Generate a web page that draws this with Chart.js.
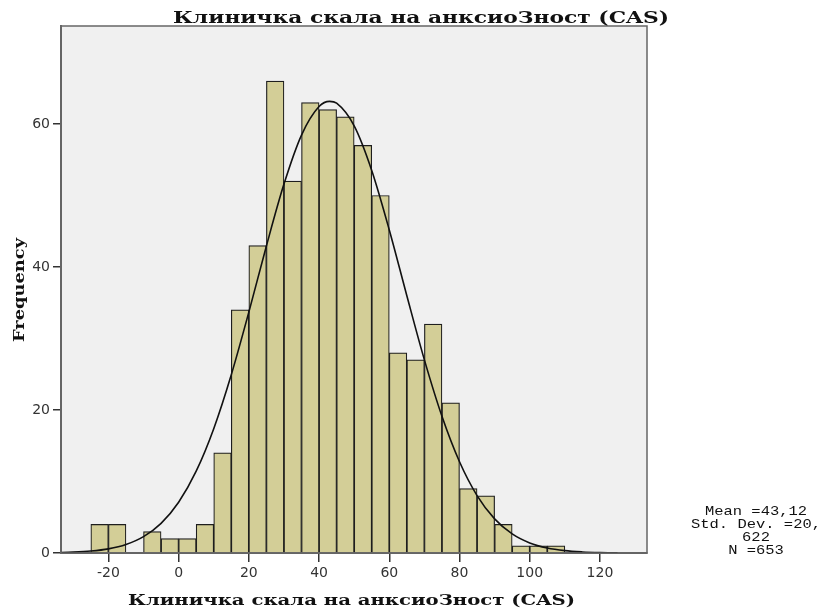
<!DOCTYPE html>
<html>
<head>
<meta charset="utf-8">
<script src="https://cdn.jsdelivr.net/npm/chart.js@4"></script>
<style>
  html, body { margin: 0; padding: 0; background: #ffffff; }
  #wrap { width: 828px; height: 612px; position: relative; }
</style>
</head>
<body>
<div id="wrap"><canvas id="c" width="828" height="612"></canvas></div>
<script>
// ---- Data ----
const titleText = "Клиничка скала на анксиоЗност (CAS)";
const xAxisTitle = "Клиничка скала на анксиоЗност (CAS)";
const yAxisTitle = "Frequency";
const statsLines = ["Mean =43,12", "Std. Dev. =20,", "622", "N =653"];

// histogram bins (lower edge) and their counts, bin width 5
const binStarts = [-25, -20, -10, -5, 0, 5, 10, 15, 20, 25, 30, 35, 40, 45, 50, 55, 60, 65, 70, 75, 80, 85, 90, 95, 100, 105];
const binCounts = [4, 4, 3, 2, 2, 4, 14, 34, 43, 66, 52, 63, 62, 61, 57, 50, 28, 27, 32, 21, 9, 8, 4, 1, 1, 1];
const binWidth = 5;

// normal curve
const curveX = [-35, -30, -25, -20, -15, -10, -5, 0, 5, 10, 15, 20, 25, 30, 35, 40, 43, 45, 50, 55, 60, 65, 70, 75, 80, 85, 90, 95, 100, 105, 110, 115, 120, 125];
const curveY = [0.05, 0.12, 0.27, 0.58, 1.19, 2.29, 4.15, 7.1, 11.44, 17.39, 24.93, 33.69, 42.94, 51.59, 58.45, 62.44, 63.16, 62.9, 59.74, 53.5, 45.18, 35.98, 27.01, 19.12, 12.76, 8.03, 4.77, 2.67, 1.41, 0.7, 0.33, 0.15, 0.06, 0.02];

const xTicks = [-20, 0, 20, 40, 60, 80, 100, 120];
const yTicks = [0, 20, 40, 60];
const xRange = [-33.5, 133.4];
const yRange = [0, 73.7];

// ---- helpers ----
function drawStretched(ctx, text, cx, baseline, font, targetWidth, rotate, color) {
  ctx.save();
  ctx.font = font;
  ctx.fillStyle = color || '#000';
  const w = ctx.measureText(text).width;
  const sx = targetWidth ? targetWidth / w : 1;
  ctx.translate(cx, baseline);
  if (rotate) ctx.rotate(rotate);
  ctx.scale(sx, 1);
  ctx.textAlign = 'center';
  ctx.textBaseline = 'alphabetic';
  ctx.fillText(text, 0, 0);
  ctx.restore();
}

const decorPlugin = {
  id: 'decor',
  beforeDraw(chart) {
    const { ctx, chartArea: a } = chart;
    ctx.save();
    ctx.fillStyle = '#f0f0f0';
    ctx.fillRect(a.left, a.top, a.right - a.left, a.bottom - a.top);
    ctx.restore();
  },
  afterDraw(chart) {
    const { ctx, chartArea: a } = chart;
    ctx.save();
    ctx.strokeStyle = '#666666';
    ctx.lineWidth = 1.5;
    ctx.strokeRect(a.left, a.top, a.right - a.left, a.bottom - a.top);
    ctx.restore();
    // title
    drawStretched(ctx, titleText, 421, 23, 'bold 16px "DejaVu Serif"', 496, 0, '#111');
    // x axis title
    drawStretched(ctx, xAxisTitle, 351.5, 605, 'bold 14px "DejaVu Serif"', 447, 0, '#111');
    // y axis title (rotated)
    drawStretched(ctx, yAxisTitle, 24, 290, 'bold 14px "DejaVu Serif"', 104, -Math.PI / 2, '#111');
    // stats box text
    ctx.save();
    ctx.font = '13px "Liberation Mono"';
    const ref = ctx.measureText(statsLines[1]).width;
    ctx.restore();
    const sx = 130 / ref;
    const baselines = [515, 528, 541, 554];
    statsLines.forEach((s, i) => {
      ctx.save();
      ctx.font = '13px "Liberation Mono"';
      const w = ctx.measureText(s).width;
      drawStretched(ctx, s, 756, baselines[i], '13px "Liberation Mono"', w * sx, 0, '#111');
      ctx.restore();
    });
  }
};

const barData = binStarts.map((s, i) => ({ x: s + binWidth / 2, y: binCounts[i] }));
const curveData = curveX.map((x, i) => ({ x: x, y: curveY[i] }));

new Chart(document.getElementById('c'), {
  type: 'bar',
  data: {
    datasets: [
      {
        type: 'line',
        data: curveData,
        borderColor: '#111111',
        borderWidth: 1.6,
        pointRadius: 0,
        fill: false,
        cubicInterpolationMode: 'monotone',
        order: 0
      },
      {
        type: 'bar',
        data: barData,
        backgroundColor: '#d3ce97',
        borderColor: '#1e1e1e',
        borderWidth: 1.2,
        barPercentage: 1,
        categoryPercentage: 1,
        order: 1
      }
    ]
  },
  options: {
    responsive: false,
    animation: false,
    events: [],
    layout: { padding: { left: 0, top: 26, right: 181, bottom: 0 } },
    plugins: { legend: { display: false }, title: { display: false }, tooltip: { enabled: false } },
    scales: {
      x: {
        type: 'linear',
        offset: false,
        min: xRange[0],
        max: xRange[1],
        afterBuildTicks(scale) { scale.ticks = xTicks.map(v => ({ value: v })); },
        afterFit(scale) { scale.height = 59; },
        grid: { display: true, offset: false, drawOnChartArea: false, drawTicks: true, tickLength: 9, color: '#333333', lineWidth: 1.5 },
        border: { display: true, color: '#666666', width: 2 },
        ticks: { font: { family: 'DejaVu Sans', size: 14 }, color: '#333333', padding: 3, maxRotation: 0, autoSkip: false }
      },
      y: {
        type: 'linear',
        min: yRange[0],
        max: yRange[1],
        afterBuildTicks(scale) { scale.ticks = yTicks.map(v => ({ value: v })); },
        afterFit(scale) { scale.width = 61; },
        grid: { display: true, offset: false, drawOnChartArea: false, drawTicks: true, tickLength: 8, color: '#333333', lineWidth: 1.5 },
        border: { display: true, color: '#666666', width: 2 },
        ticks: { font: { family: 'DejaVu Sans', size: 14 }, color: '#333333', padding: 3 }
      }
    }
  },
  plugins: [decorPlugin]
});
</script>
</body>
</html>
